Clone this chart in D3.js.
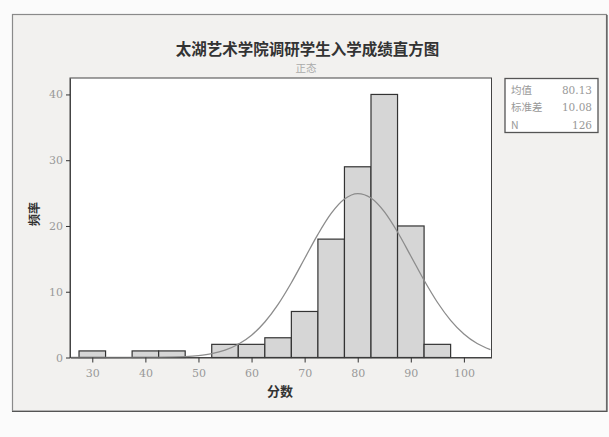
<!DOCTYPE html>
<html><head><meta charset="utf-8">
<script src="https://cdn.jsdelivr.net/npm/d3@7"></script>
<style>
html,body{margin:0;padding:0;background:#fbfbfb;}
svg{display:block;}
</style></head>
<body>
<svg id="chart" width="609" height="437"></svg>
<script>
// Data
const binCenters = [30, 35, 40, 45, 50, 55, 60, 65, 70, 75, 80, 85, 90, 95];
const binCounts  = [1, 0, 1, 1, 0, 2, 2, 3, 7, 18, 29, 40, 20, 2];
const binWidth = 5;
const xTicks = [30, 40, 50, 60, 70, 80, 90, 100];
const yTicks = [0, 10, 20, 30, 40];
// Normal curve values (fitted normal: mean 80.13, sd 10.08, N 126)
const curveX = [26, 30, 35, 40, 45, 47.5, 50, 52.5, 55, 57.5, 60, 62.5, 65, 67.5, 70, 72.5, 75, 77.5, 80, 82.5, 85, 87.5, 90, 92.5, 95, 97.5, 100, 102.5, 105];
const curveY = [0, 0.0001, 0.001, 0.009, 0.057, 0.13, 0.29, 0.58, 1.11, 2.01, 3.39, 5.40, 8.08, 11.37, 15.05, 18.72, 21.90, 24.09, 24.93, 24.25, 22.18, 19.08, 15.44, 11.74, 8.40, 5.65, 3.57, 2.12, 1.19];
const statLabels = ["均值", "标准差", "N"];
const statValues = ["80.13", "10.08", "126"];
const title = "太湖艺术学院调研学生入学成绩直方图";
const subtitle = "正态";
const xLabel = "分数";
const yLabel = "频率";

const svg = d3.select("#chart");
const serif = "'DejaVu Serif','Liberation Serif',serif";
const cjk = "'Noto Sans CJK SC','Noto Sans',sans-serif";

// outer frame
svg.append("rect").attr("x", 12.5).attr("y", 14.5).attr("width", 594).attr("height", 396.5)
  .attr("fill", "#f2f1ef").attr("stroke", "#8a8a8a").attr("stroke-width", 1.2);
svg.append("path").attr("d", "M607,15 V411.5 H12").attr("fill", "none").attr("stroke", "#555").attr("stroke-width", 1.2);

const plot = {left: 70, top: 78, right: 491.5, bottom: 357.5};
const x = d3.scaleLinear().domain([25.8, 105.2]).range([plot.left, plot.right]);
const y = d3.scaleLinear().domain([0, 42.5]).range([plot.bottom, plot.top]);

svg.append("rect").attr("x", plot.left).attr("y", plot.top)
  .attr("width", plot.right - plot.left).attr("height", plot.bottom - plot.top)
  .attr("fill", "#ffffff").attr("stroke", "#444").attr("stroke-width", 1);

// bars
svg.append("g").selectAll("rect").data(binCenters.map((c, i) => ({c, n: binCounts[i]})).filter(d => d.n > 0))
  .join("rect")
  .attr("x", d => x(d.c - binWidth / 2))
  .attr("y", d => y(d.n))
  .attr("width", d => x(d.c + binWidth / 2) - x(d.c - binWidth / 2))
  .attr("height", d => y(0) - y(d.n))
  .attr("fill", "#d6d6d6").attr("stroke", "#333").attr("stroke-width", 1.2);

// normal curve
const line = d3.line().x(d => x(d[0])).y(d => y(d[1])).curve(d3.curveMonotoneX);
svg.append("path").datum(curveX.map((v, i) => [v, curveY[i]]))
  .attr("d", line).attr("fill", "none").attr("stroke", "#8c8c8c").attr("stroke-width", 1.3);

// axes
const xAxis = d3.axisBottom(x).tickValues(xTicks).tickSize(5).tickPadding(7).tickSizeOuter(0);
const gx = svg.append("g").attr("transform", `translate(0,${plot.bottom})`).call(xAxis);
gx.select(".domain").attr("stroke", "#444");
gx.selectAll(".tick line").attr("stroke", "#333");
gx.selectAll("text").attr("fill", "#999").attr("font-family", serif).attr("font-size", 11);

const yAxis = d3.axisLeft(y).tickValues(yTicks).tickSize(4).tickPadding(3).tickSizeOuter(0);
const gy = svg.append("g").attr("transform", `translate(${plot.left},0)`).call(yAxis);
gy.select(".domain").attr("stroke", "#444");
gy.selectAll(".tick line").attr("stroke", "#333");
gy.selectAll("text").attr("fill", "#999").attr("font-family", serif).attr("font-size", 11);

// titles
svg.append("text").attr("x", 307.5).attr("y", 54.5).attr("text-anchor", "middle")
  .attr("font-family", cjk).attr("font-weight", "bold").attr("font-size", 15.5).attr("fill", "#333").text(title);
svg.append("text").attr("x", 306).attr("y", 72).attr("text-anchor", "middle")
  .attr("font-family", cjk).attr("font-size", 10.5).attr("fill", "#aaa").text(subtitle);

svg.append("text").attr("x", 280).attr("y", 396).attr("text-anchor", "middle")
  .attr("font-family", cjk).attr("font-weight", "bold").attr("font-size", 13).attr("fill", "#333").text(xLabel);
svg.append("text").attr("transform", "translate(39,214) rotate(-90)").attr("text-anchor", "middle")
  .attr("font-family", cjk).attr("font-weight", "bold").attr("font-size", 12).attr("fill", "#333").text(yLabel);

// stats box
svg.append("rect").attr("x", 505).attr("y", 78.5).attr("width", 93).attr("height", 54)
  .attr("fill", "#fff").attr("stroke", "#555").attr("stroke-width", 1.3);
const rows = [94, 110.5, 128.5];
statLabels.forEach((l, i) => {
  svg.append("text").attr("x", 511).attr("y", rows[i]).attr("font-family", cjk).attr("font-size", 10.5)
    .attr("fill", "#999").text(l);
  svg.append("text").attr("x", 592).attr("y", rows[i]).attr("text-anchor", "end").attr("font-family", serif)
    .attr("font-size", 10.5).attr("fill", "#999").text(statValues[i]);
});
</script>
</body></html>
